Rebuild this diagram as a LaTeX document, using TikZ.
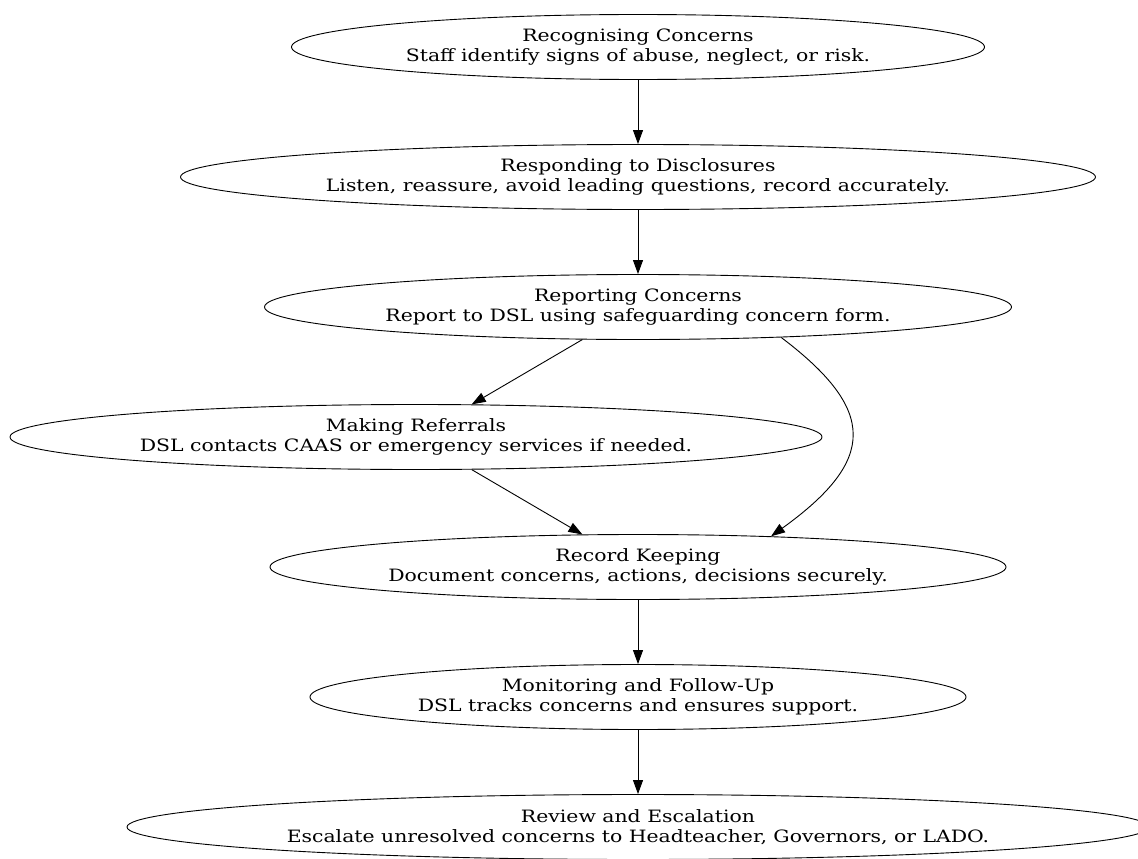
\documentclass[tikz,border=0pt]{standalone}
\usepackage{fontspec}
\setmainfont{DejaVu Serif}[FakeStretch=1.2]
\usetikzlibrary{shapes.geometric, arrows.meta}

\begin{document}
\begin{tikzpicture}[x=1pt, y=-1pt, line width=0.9pt,
    stage/.style={draw, ellipse, inner sep=0pt, align=center, minimum height=65pt,
      font=\fontsize{17}{20}\selectfont},
    flow/.style={-{Triangle[length=14pt, width=10pt]}}]
  \useasboundingbox (0,0) rectangle (1138,859);
  \node[stage, minimum width=693pt] (rec) at (638,47) {Recognising Concerns\\Staff identify signs of abuse, neglect, or risk.};
  \node[stage, minimum width=915pt] (resp) at (638,177) {Responding to Disclosures\\Listen, reassure, avoid leading questions, record accurately.};
  \node[stage, minimum width=747pt] (rep) at (638,307) {Reporting Concerns\\Report to DSL using safeguarding concern form.};
  \node[stage, minimum width=812pt] (ref) at (416,437) {Making Referrals\\DSL contacts CAAS or emergency services if needed.};
  \node[stage, minimum width=736pt] (rk) at (638,567) {Record Keeping\\Document concerns, actions, decisions securely.};
  \node[stage, minimum width=656pt] (mon) at (638,697) {Monitoring and Follow-Up\\DSL tracks concerns and ensures support.};
  \node[stage, minimum width=1022pt] (rev) at (638,827) {Review and Escalation\\Escalate unresolved concerns to Headteacher, Governors, or LADO.};
  \draw[flow] (rec) -- (resp);
  \draw[flow] (resp) -- (rep);
  \draw[flow] (rep) -- (ref);
  \draw[flow] (ref) -- (rk);
  \draw[flow] (rep.-12.5) .. controls (877,410) and (877,460) .. (rk.13);
  \draw[flow] (rk) -- (mon);
  \draw[flow] (mon) -- (rev);
\end{tikzpicture}
\end{document}
